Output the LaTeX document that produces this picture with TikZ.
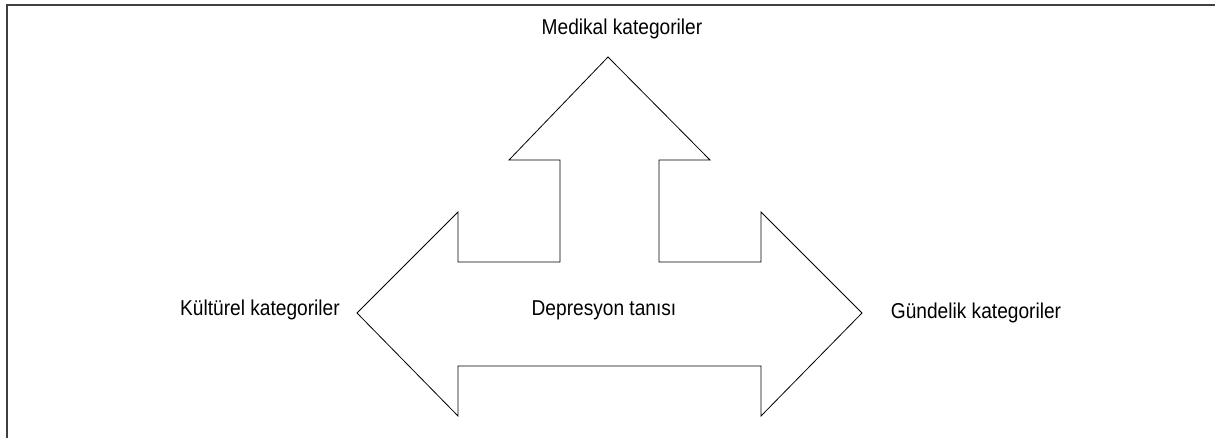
\documentclass[tikz,border=0pt]{standalone}
\usepackage{fontspec}
\setmainfont[FakeStretch=0.89]{Liberation Sans}
\begin{document}
\begin{tikzpicture}[x=1pt, y=-1pt]

\tikzstyle{label}=[anchor=base, inner sep=0pt, font=\fontsize{21.5}{24}\selectfont]
\tikzstyle{outline}=[draw=black, line width=0.8pt, line join=miter]
\tikzstyle{frame}=[draw=black!75, line width=2pt]

\useasboundingbox (0,0) rectangle (1215,438);

% open frame (top and left only)
\draw[frame] (1215,5.5) -- (6.5,5.5) -- (6.5,438);

% three-headed arrow
\draw[outline] (357,313) -- (458,212) -- (458,262) -- (560,262) -- (560,160)
  -- (509,160) -- (608,57) -- (710,160) -- (659,160) -- (659,262)
  -- (761,262) -- (761,212) -- (862,313) -- (761,416) -- (761,366)
  -- (458,366) -- (458,416) -- cycle;

\node[label] (medikal) at (622,35) {Medikal kategoriler};
\node[label] (kulturel) at (260,316) {Kültürel kategoriler};
\node[label] (tani) at (604,316) {Depresyon tanısı};
\node[label] (gundelik) at (976,318) {Gündelik kategoriler};

\end{tikzpicture}
\end{document}
